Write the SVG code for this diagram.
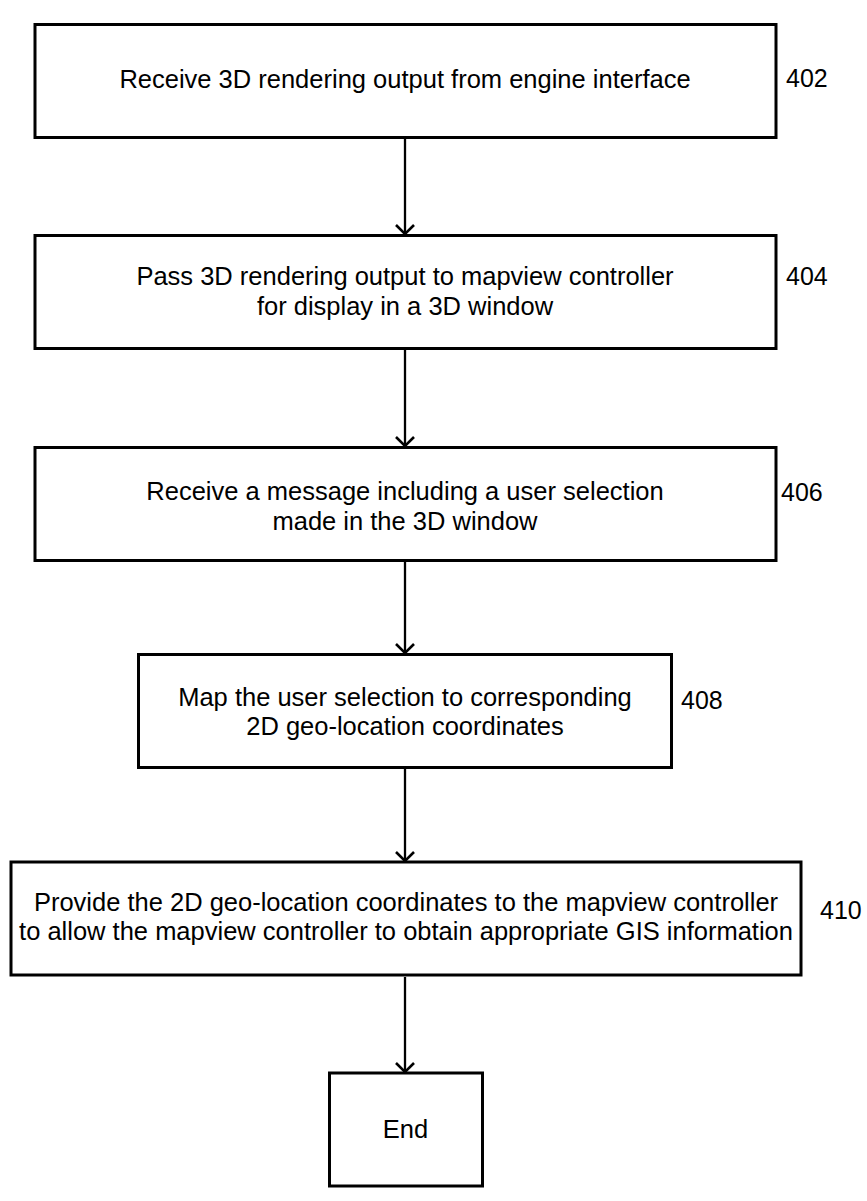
<svg xmlns="http://www.w3.org/2000/svg" width="867" height="1201" viewBox="0 0 867 1201">
  <style>
    .box { fill: #ffffff; stroke: #000000; stroke-width: 3; }
    .t { font-family: "Liberation Sans", Arial, sans-serif; font-size: 25.5px; fill: #000000; text-anchor: middle; }
    .ref { font-family: "Liberation Sans", Arial, sans-serif; font-size: 25px; fill: #000000; }
    .conn { fill: none; stroke: #000000; stroke-width: 2.3; }
  </style>
  <defs>
    <marker id="arrow" markerUnits="userSpaceOnUse" markerWidth="22" markerHeight="22" refX="10" refY="10" orient="auto" viewBox="0 0 22 22">
      <path d="M1,1 L10,10 L1,19" fill="none" stroke="#000000" stroke-width="2.6"/>
    </marker>
  </defs>
  <rect width="867" height="1201" fill="#ffffff"/>

  <g id="connectors">
    <line class="conn" x1="405" y1="139" x2="405" y2="234" marker-end="url(#arrow)"/>
    <line class="conn" x1="405" y1="350" x2="405" y2="446" marker-end="url(#arrow)"/>
    <line class="conn" x1="405" y1="561" x2="405" y2="653" marker-end="url(#arrow)"/>
    <line class="conn" x1="405" y1="769" x2="405" y2="861" marker-end="url(#arrow)"/>
    <line class="conn" x1="405" y1="977" x2="405" y2="1072" marker-end="url(#arrow)"/>
  </g>

  <g id="node402">
    <rect class="box" x="35" y="24.5" width="741" height="113"/>
    <text class="t" x="405" y="88">Receive 3D rendering output from engine interface</text>
    <text class="ref" x="786" y="87">402</text>
  </g>

  <g id="node404">
    <rect class="box" x="35" y="235.5" width="741" height="113"/>
    <text class="t" x="405" y="285">Pass 3D rendering output to mapview controller</text>
    <text class="t" x="405" y="315">for display in a 3D window</text>
    <text class="ref" x="786" y="285">404</text>
  </g>

  <g id="node406">
    <rect class="box" x="35" y="447.5" width="741" height="113"/>
    <text class="t" x="405" y="500">Receive a message including a user selection</text>
    <text class="t" x="405" y="530">made in the 3D window</text>
    <text class="ref" x="781" y="501">406</text>
  </g>

  <g id="node408">
    <rect class="box" x="138.5" y="654.5" width="533" height="113"/>
    <text class="t" x="405" y="706">Map the user selection to corresponding</text>
    <text class="t" x="405" y="735">2D geo-location coordinates</text>
    <text class="ref" x="681" y="709">408</text>
  </g>

  <g id="node410">
    <rect class="box" x="11" y="862" width="790" height="113"/>
    <text class="t" x="406" y="911">Provide the 2D geo-location coordinates to the mapview controller</text>
    <text class="t" x="406" y="940">to allow the mapview controller to obtain appropriate GIS information</text>
    <text class="ref" x="820" y="919">410</text>
  </g>

  <g id="nodeEnd">
    <rect class="box" x="329.5" y="1073" width="153" height="113"/>
    <text class="t" x="405.5" y="1138">End</text>
  </g>
</svg>
